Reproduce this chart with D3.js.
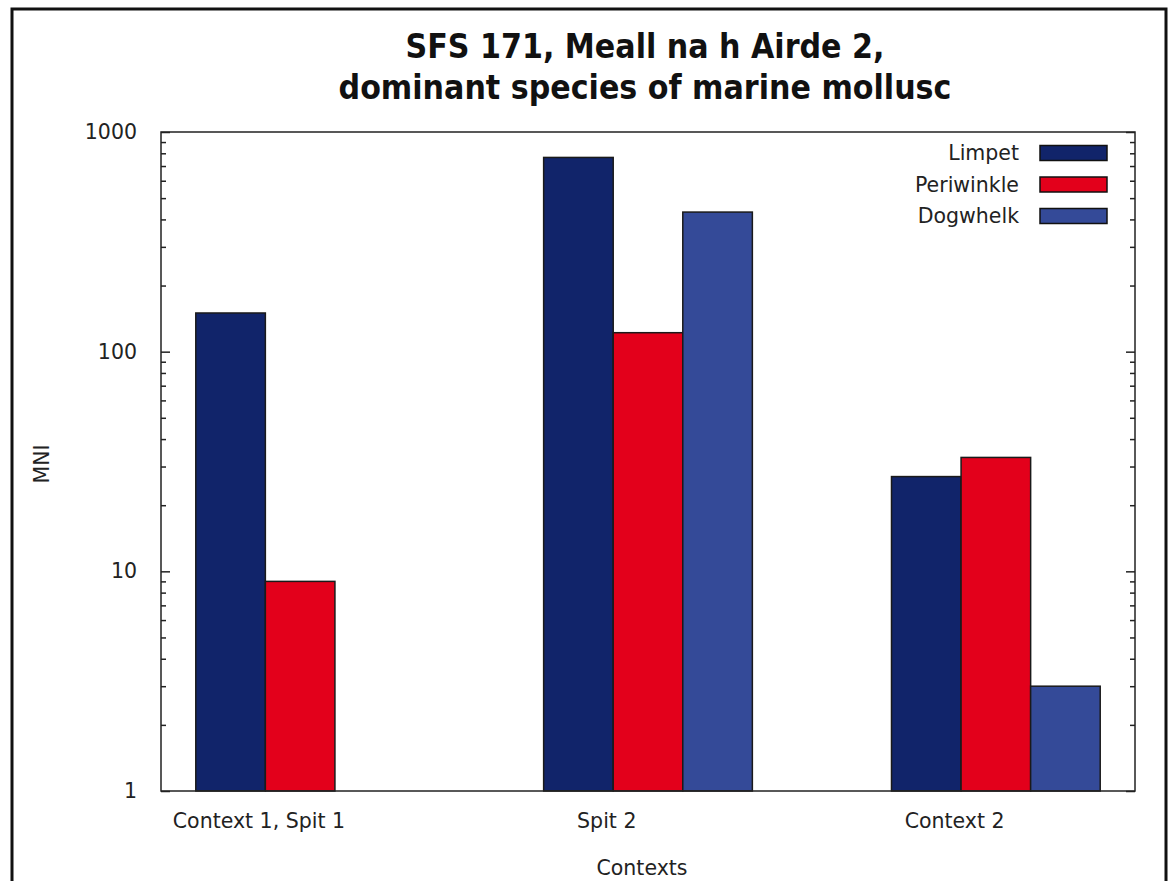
<!DOCTYPE html>
<html><head><meta charset="utf-8">
<script src="https://cdn.jsdelivr.net/npm/d3@7"></script>
<style>body{margin:0;background:#fff}</style></head><body>
<svg id="c" width="1168" height="881"></svg>
<script>
const categories = ["Context 1, Spit 1", "Spit 2", "Context 2"];
const seriesNames = ["Limpet", "Periwinkle", "Dogwhelk"];
const limpet = [150, 766, 27];
const periwinkle = [9, 122, 33];
const dogwhelk = [null, 432, 3];
const yTickValues = [1, 10, 100, 1000];
const titleLines = ["SFS 171, Meall na h Airde 2,", "dominant species of marine mollusc"];
const xTitle = "Contexts";
const yTitle = "MNI";

const series = [limpet, periwinkle, dogwhelk];
const colors = ["#11246a", "#e3001b", "#344a98"];

const svg = d3.select("#c");
const L = 161, R = 1135, T = 132, B = 791;
const font = "DejaVu Sans";
const fs = 20.5;

// outer frame
svg.append("rect").attr("x", 12).attr("y", 9).attr("width", 1154).attr("height", 900)
  .attr("fill", "none").attr("stroke", "#111").attr("stroke-width", 3);

const x = d3.scaleLinear().domain([-0.5, 2.3]).range([L, R]);
const y = d3.scaleLog().domain([1, 1000]).range([B, T]);
const bw = x(0.2) - x(0);

// bars
series.forEach((vals, i) => {
  svg.append("g").selectAll("rect").data(vals.map((v, j) => ({v, j})).filter(d => d.v != null))
    .join("rect")
    .attr("x", d => x(d.j - 0.4 + i * 0.2))
    .attr("width", bw)
    .attr("y", d => y(d.v))
    .attr("height", d => y(1) - y(d.v))
    .attr("fill", colors[i])
    .attr("stroke", "#1a1a1a").attr("stroke-width", 1.5);
});

// minor tick values
const minor = [];
[1, 10, 100].forEach(d => { for (let k = 2; k <= 9; k++) minor.push(d * k); });

function styleAxis(g) {
  g.select(".domain").remove();
  g.selectAll("line").attr("stroke", "#222").attr("stroke-width", 1.5);
  g.selectAll("text").attr("font-family", font).attr("font-size", fs).attr("fill", "#222");
}

const yl = svg.append("g").attr("transform", `translate(${L},0)`)
  .call(d3.axisLeft(y).tickValues(yTickValues).tickFormat(d3.format("d")).tickSize(-9).tickPadding(24));
styleAxis(yl);
const ylm = svg.append("g").attr("transform", `translate(${L},0)`)
  .call(d3.axisLeft(y).tickValues(minor).tickFormat("").tickSize(-5));
styleAxis(ylm);
const yr = svg.append("g").attr("transform", `translate(${R},0)`)
  .call(d3.axisRight(y).tickValues(yTickValues).tickFormat("").tickSize(-9));
styleAxis(yr);
const yrm = svg.append("g").attr("transform", `translate(${R},0)`)
  .call(d3.axisRight(y).tickValues(minor).tickFormat("").tickSize(-5));
styleAxis(yrm);

// x labels
const xa = svg.append("g").attr("transform", `translate(0,${B})`)
  .call(d3.axisBottom(x).tickValues(categories.map((c, j) => j - 0.22))
    .tickFormat((d, j) => categories[j]).tickSize(0).tickPadding(22));
styleAxis(xa);

// plot frame
svg.append("rect").attr("x", L).attr("y", T).attr("width", R - L).attr("height", B - T)
  .attr("fill", "none").attr("stroke", "#222").attr("stroke-width", 1.5);

// titles
svg.append("g").selectAll("text").data(titleLines).join("text")
  .attr("x", 645).attr("y", (d, i) => 58 + i * 41)
  .attr("text-anchor", "middle")
  .attr("font-family", "DejaVu Sans Condensed, DejaVu Sans").attr("font-stretch", "condensed")
  .attr("font-weight", "bold").attr("font-size", 33.5).attr("fill", "#111")
  .text(d => d);

svg.append("text").attr("x", 642).attr("y", 875).attr("text-anchor", "middle")
  .attr("font-family", font).attr("font-size", fs).attr("fill", "#222").text(xTitle);
svg.append("text").attr("transform", "translate(49,464) rotate(-90)").attr("text-anchor", "middle")
  .attr("font-family", font).attr("font-size", fs).attr("fill", "#222").text(yTitle);

// legend
const lg = svg.append("g");
seriesNames.forEach((n, i) => {
  const cy = 153 + i * 31.5;
  lg.append("text").attr("x", 1019).attr("y", cy).attr("dy", "0.35em").attr("text-anchor", "end")
    .attr("font-family", font).attr("font-size", fs).attr("fill", "#222").text(n);
  lg.append("rect").attr("x", 1040).attr("y", cy - 7.5).attr("width", 67).attr("height", 15)
    .attr("fill", colors[i]).attr("stroke", "#111").attr("stroke-width", 1.5);
});
</script>
</body></html>
